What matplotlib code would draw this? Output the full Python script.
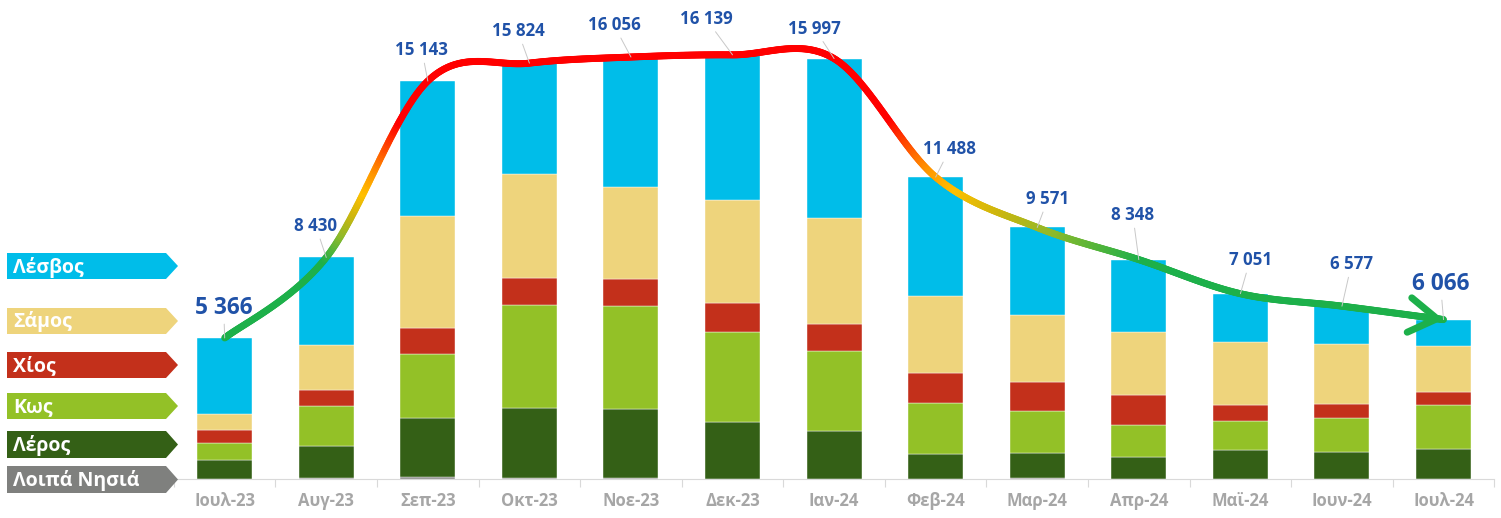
import numpy as np
import matplotlib
matplotlib.use("Agg")
import matplotlib.pyplot as plt
from matplotlib.collections import LineCollection
from matplotlib.colors import LinearSegmentedColormap, Normalize
from matplotlib.patches import Polygon, FancyArrowPatch

plt.rcParams["font.family"] = ["Open Sans", "DejaVu Sans"]

# ---- data ----
months = ["Ιουλ-23", "Αυγ-23", "Σεπ-23", "Οκτ-23", "Νοε-23", "Δεκ-23", "Ιαν-24",
          "Φεβ-24", "Μαρ-24", "Απρ-24", "Μαϊ-24", "Ιουν-24", "Ιουλ-24"]
loipa  = [10, 40, 60, 30, 40, 10, 10, 5, 20, 10, 10, 15, 10]
leros  = [725, 1227, 2272, 2683, 2612, 2170, 1828, 935, 981, 839, 1093, 1012, 1132]
kos    = [647, 1511, 2424, 3919, 3919, 3413, 3044, 1963, 1598, 1206, 1103, 1294, 1686]
chios  = [483, 620, 989, 1027, 1039, 1092, 1027, 1119, 1081, 1142, 609, 544, 483]
samos  = [609, 1689, 4273, 3946, 3512, 3931, 4033, 2941, 2572, 2397, 2386, 2283, 1750]
lesvos = [2892, 3343, 5125, 4219, 4934, 5523, 6055, 4525, 3319, 2754, 1850, 1429, 1005]

# palette
C_LESVOS = "#00BDE9"; C_SAMOS = "#EED47C"; C_CHIOS = "#C3301B"
C_KOS = "#93C127"; C_LEROS = "#346016"; C_LOIPA = "#7F807E"
BLUE = "#2052A8"; TICK = "#A6A6A6"; AXC = "#D9D9D9"

stack = [("Λοιπά Νησιά", loipa, C_LOIPA), ("Λέρος", leros, C_LEROS),
         ("Κως", kos, C_KOS), ("Χίος", chios, C_CHIOS),
         ("Σάμος", samos, C_SAMOS), ("Λέσβος", lesvos, C_LESVOS)]

W, H = 1501, 518
fig = plt.figure(figsize=(W / 100, H / 100), dpi=100)
ax = fig.add_axes([173.9 / W, 1 - 479 / H, (1494.3 - 173.9) / W, 479 / H])
ax.set_xlim(-0.5, 12.5)
ax.set_ylim(0, 479 * 38.05)

x = np.arange(len(months))
bottom = np.zeros(len(months))
for name, vals, col in stack:
    ax.bar(x, vals, 0.5415, bottom=bottom, color=col, edgecolor="white",
           linewidth=0.3, zorder=2)
    bottom += np.array(vals)
totals = bottom

# ---- smoothed trend line with vertical colour gradient ----
def smooth(xs, ys, n=80):
    P = np.column_stack([xs, ys]).astype(float)
    P = np.vstack([P[0], P, P[-1]])
    out = []
    for i in range(1, len(P) - 2):
        p0, p1, p2, p3 = P[i - 1], P[i], P[i + 1], P[i + 2]
        c1 = p1 + (p2 - p0) / 6
        c2 = p2 - (p3 - p1) / 6
        t = np.linspace(0, 1, n, endpoint=(i == len(P) - 3))[:, None]
        out.append((1 - t) ** 3 * p1 + 3 * (1 - t) ** 2 * t * c1 + 3 * (1 - t) * t ** 2 * c2 + t ** 3 * p2)
    return np.vstack(out)

pts = smooth(x, totals)
nodes = [(8300, "#1DB04A"), (9300, "#8DB92A"), (10100, "#CDB60E"), (10900, "#FFC000"),
         (11700, "#FF9600"), (12600, "#FF5000"), (13600, "#FF0000")]
lo, hi = nodes[0][0], nodes[-1][0]
cmap = LinearSegmentedColormap.from_list("trend", [((v - lo) / (hi - lo), c) for v, c in nodes])
segs = np.stack([pts[:-1], pts[1:]], axis=1)
mid = (pts[:-1, 1] + pts[1:, 1]) / 2
lc = LineCollection(segs, colors=cmap(Normalize(lo, hi, clip=True)(mid)),
                    linewidths=5.0, capstyle="round", joinstyle="round", zorder=4)
ax.add_collection(lc)
ax.add_patch(FancyArrowPatch(tuple(pts[-22]), tuple(pts[-1]),
             arrowstyle="->,head_length=0.8,head_width=0.5", mutation_scale=25,
             color="#1DB04A", linewidth=5.0, shrinkA=0, shrinkB=0,
             capstyle="round", joinstyle="round", zorder=4))

# ---- total labels with leader lines ----
offs = [(-1, 32), (-10.5, 33.5), (-6, 33), (-11.5, 34), (-17, 34), (-26.5, 38), (-19.5, 32),
        (14, 30), (10.7, 30.5), (-6, 46.6), (9.7, 35.7), (9.5, 44), (-3, 37.6)]
for i, (tot, (dx, dy)) in enumerate(zip(totals, offs)):
    big = i in (0, len(months) - 1)
    ax.annotate(f"{int(tot):,}".replace(",", " "), xy=(i, tot), xytext=(dx, dy - 2),
                textcoords="offset pixels", ha="center", va="center",
                fontsize=16.3 if big else 12.2, fontweight="bold", color=BLUE, zorder=5,
                arrowprops=dict(arrowstyle="-", color="#C8C8C8", lw=0.7,
                                shrinkA=1, shrinkB=0))

# ---- axes styling ----
for s in ("top", "right", "left"):
    ax.spines[s].set_visible(False)
ax.spines["bottom"].set_color(AXC)
ax.spines["bottom"].set_linewidth(0.8)
ax.set_yticks([])
ax.set_xticks(x)
ax.set_xticklabels(months, fontsize=12, fontweight="bold", color=TICK)
ax.tick_params(axis="x", which="major", length=0, pad=9)
ax.set_xticks(np.arange(-0.5, 13), minor=True)
ax.tick_params(axis="x", which="minor", length=6, color=AXC, width=0.8)

# ---- arrow-shaped legend tags ----
tags = [("Λέσβος", C_LESVOS, 253, 279), ("Σάμος", C_SAMOS, 308, 334),
        ("Χίος", C_CHIOS, 352, 378), ("Κως", C_KOS, 393, 419),
        ("Λέρος", C_LEROS, 431, 458), ("Λοιπά Νησιά", C_LOIPA, 466, 493)]
for lab, col, top, bot in tags:
    xl, xb, xt = 7, 166, 178
    poly = [(xl, top), (xb, top), (xt, (top + bot) / 2), (xb, bot), (xl, bot)]
    fig.patches.append(Polygon([(px / W, 1 - py / H) for px, py in poly], closed=True,
                               transform=fig.transFigure, facecolor=col, edgecolor="none"))
    fig.text(13 / W, 1 - ((top + bot) / 2 + 1) / H, lab, ha="left", va="center",
             fontsize=14, fontweight="bold", color="white")

fig.savefig("out.png", dpi=100)
